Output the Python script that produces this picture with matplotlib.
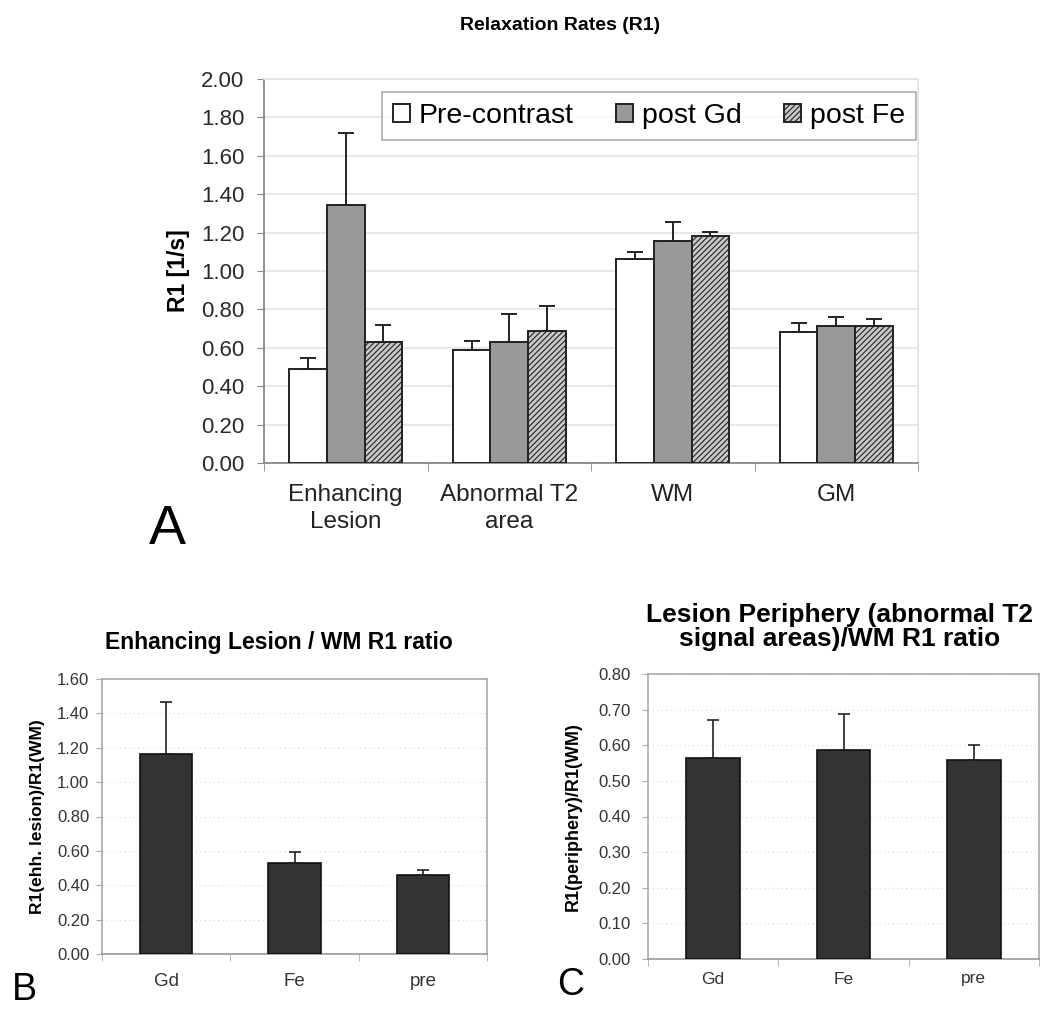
import numpy as np
import matplotlib.pyplot as plt

plt.rcParams['font.family'] = ['Liberation Sans', 'DejaVu Sans']
plt.rcParams['hatch.color'] = '#a8a8a8'
plt.rcParams['hatch.linewidth'] = 0.8

# Panel A data
groups = ['Enhancing\nLesion', 'Abnormal T2\narea', 'WM', 'GM']
pre = [0.49, 0.59, 1.065, 0.68]
pre_sd = [0.055, 0.045, 0.035, 0.047]
gd = [1.345, 0.63, 1.155, 0.712]
gd_sd = [0.372, 0.145, 0.098, 0.051]
fe = [0.63, 0.69, 1.18, 0.712]
fe_sd = [0.087, 0.127, 0.022, 0.038]
series_names = ['Pre-contrast', 'post Gd', 'post Fe']

# Panel B / C data
agents = ['Gd', 'Fe', 'pre']
ratio_lesion = [1.164, 0.528, 0.462]
ratio_lesion_sd = [0.30, 0.067, 0.029]
ratio_periph = [0.565, 0.586, 0.558]
ratio_periph_sd = [0.106, 0.101, 0.043]

W, H = 1047, 1010
fig = plt.figure(figsize=(W / 100, H / 100), dpi=100)


def box(x0, y0, x1, y1):
    # pixel box (top-left origin) -> figure fraction rect
    return [x0 / W, 1 - y1 / H, (x1 - x0) / W, (y1 - y0) / H]


grid_col = '#e4e4e4'
spine_col = '#888888'

# ---------------- Panel A ----------------
ax = fig.add_axes(box(264, 79, 918, 463))
x = np.arange(len(groups))
bw = 0.23
styles = [
    dict(color='white', edgecolor='#222222'),
    dict(color='#999999', edgecolor='#222222'),
    dict(color='#c8c8c8', edgecolor='#222222', hatch='//////'),
]
vals = [pre, gd, fe]
sds = [pre_sd, gd_sd, fe_sd]
for i in range(3):
    pos = x + (i - 1) * bw
    ax.bar(pos, vals[i], bw, linewidth=1.4, label=series_names[i], zorder=3, **styles[i])
    ax.errorbar(pos, vals[i], yerr=[np.zeros(4), sds[i]], fmt='none',
                ecolor='#222222', elinewidth=1.4, capsize=6, capthick=1.4, zorder=4)
ax.set_xlim(-0.5, 3.5)
ax.set_ylim(0, 2.0)
yt = np.arange(0, 2.01, 0.2)
ax.set_yticks(yt)
ax.set_yticklabels(['%.2f' % v for v in yt], fontsize=16, color='#2a2a2a')
ax.yaxis.grid(True, color=grid_col, linewidth=1.2, zorder=0)
ax.set_axisbelow(True)
ax.set_xticks(x)
ax.set_xticklabels(groups, fontsize=17.5, color='#222222', linespacing=1.3)
ax.set_xticks(np.arange(-0.5, 4, 1), minor=True)
ax.tick_params(axis='x', which='major', length=0, pad=15)
ax.tick_params(axis='x', which='minor', length=6, color=spine_col)
ax.tick_params(axis='y', length=5, pad=9, color=spine_col)
ax.spines['left'].set_color(spine_col)
ax.spines['bottom'].set_color(spine_col)
ax.spines['top'].set_color(grid_col)
ax.spines['right'].set_color(grid_col)
for s in ax.spines.values():
    s.set_linewidth(1.3)
ax.set_ylabel('R1 [1/s]', fontsize=16.5, fontweight='bold', labelpad=8)
leg = ax.legend(loc='upper left', bbox_to_anchor=(382 / W, 1 - 92 / H), bbox_transform=fig.transFigure,
                ncol=3, fontsize=20.5, frameon=True, fancybox=False, edgecolor='#999999',
                handlelength=0.6, handleheight=0.6, handletextpad=0.3, columnspacing=1.5,
                borderpad=0.38, borderaxespad=0)
leg.get_frame().set_linewidth(1.2)
fig.text(560 / W, 1 - 25 / H, 'Relaxation Rates (R1)', ha='center', va='center',
         fontsize=14, fontweight='bold')
fig.text(167 / W, 1 - 530 / H, 'A', ha='center', va='center', fontsize=40)


def ratio_panel(rect, vals, sd, ymax, step, ylabel, ylab_fs, ylab_pad, tick_pad, xl_fs, xl_pad,
                title, title_xy, title_fs, letter, letter_xy):
    a = fig.add_axes(rect)
    xx = np.arange(len(agents))
    a.bar(xx, vals, 0.41, color='#333333', edgecolor='#111111', linewidth=1.2, zorder=3)
    a.errorbar(xx, vals, yerr=[np.zeros(3), sd], fmt='none', ecolor='#222222',
               elinewidth=1.2, capsize=4, capthick=1.2, zorder=4)
    a.set_xlim(-0.5, 2.5)
    a.set_ylim(0, ymax)
    ticks = np.arange(0, ymax + 1e-6, step)
    a.set_yticks(ticks)
    a.set_yticklabels(['%.2f' % v for v in ticks], fontsize=12, color='#333333')
    a.yaxis.grid(True, color='#d8d8d8', linewidth=0.8, linestyle=(0, (1, 3)), zorder=0)
    a.set_axisbelow(True)
    a.set_xticks(xx)
    a.set_xticklabels(agents, fontsize=xl_fs, color='#333333')
    a.set_xticks(np.arange(-0.5, 3, 1), minor=True)
    a.tick_params(axis='x', which='major', length=0, pad=xl_pad)
    a.tick_params(axis='x', which='minor', length=5, color='#aaaaaa')
    a.tick_params(axis='y', length=4, pad=tick_pad, color='#aaaaaa')
    for s in a.spines.values():
        s.set_color('#aaaaaa')
        s.set_linewidth(1.2)
    a.spines['bottom'].set_color('#999999')
    a.set_ylabel(ylabel, fontsize=ylab_fs, fontweight='bold', labelpad=ylab_pad)
    fig.text(title_xy[0] / W, 1 - title_xy[1] / H, title, ha='center', va='center',
             fontsize=title_fs, fontweight='bold', linespacing=1.05)
    fig.text(letter_xy[0] / W, 1 - letter_xy[1] / H, letter, ha='center', va='center', fontsize=27)
    return a


ratio_panel(box(102, 679, 487, 954), ratio_lesion, ratio_lesion_sd, 1.6, 0.2,
            'R1(ehh. lesion)/R1(WM)', 12.5, 9, 5, 13.5, 14,
            'Enhancing Lesion / WM R1 ratio', (279, 642), 16.5,
            'B', (24, 990))
ratio_panel(box(648, 674, 1039, 959), ratio_periph, ratio_periph_sd, 0.8, 0.1,
            'R1(periphery)/R1(WM)', 13, 12, 8.5, 12.5, 9,
            'Lesion Periphery (abnormal T2\nsignal areas)/WM R1 ratio', (840, 627), 19,
            'C', (571, 985))

fig.savefig('out.png', dpi=100)
